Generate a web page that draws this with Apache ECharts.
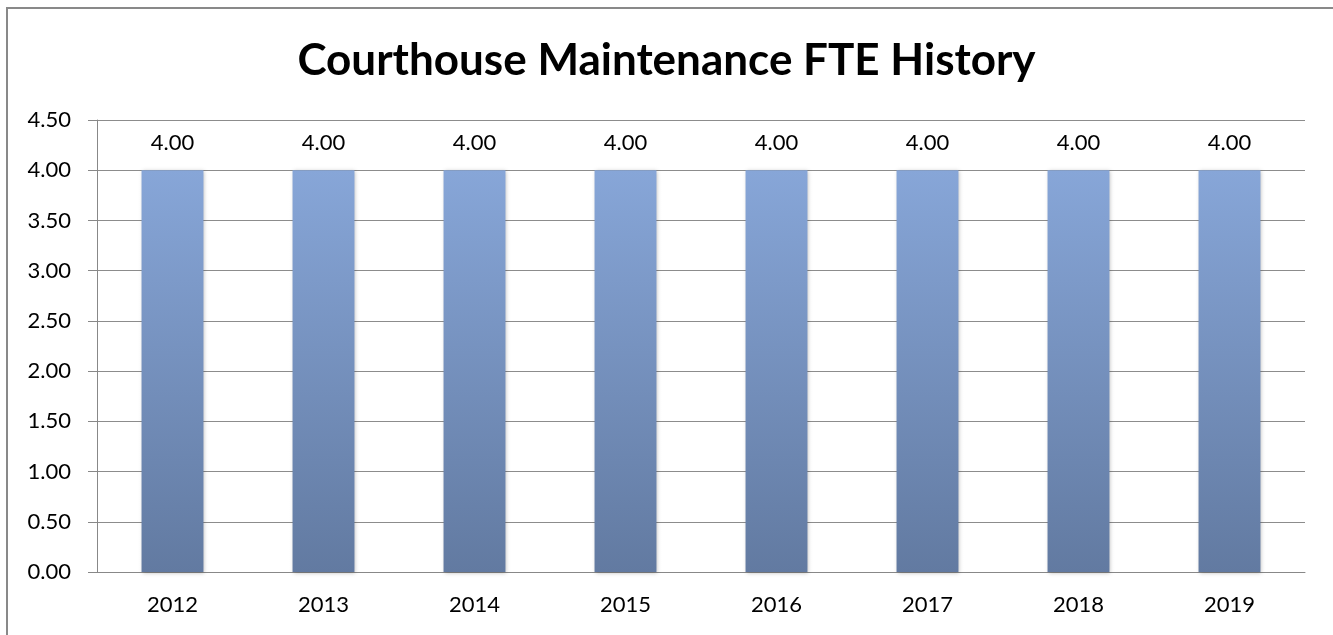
<!DOCTYPE html>
<html>
<head>
<meta charset="utf-8">
<script src="https://cdn.jsdelivr.net/npm/echarts@6/dist/echarts.min.js"></script>
<style>
  html, body { margin: 0; padding: 0; background: #fff; }
  #chart { width: 1333px; height: 635px; }
</style>
</head>
<body>
<div id="chart"></div>
<script>
const years = ['2012', '2013', '2014', '2015', '2016', '2017', '2018', '2019']
const fte = [4.00, 4.00, 4.00, 4.00, 4.00, 4.00, 4.00, 4.00]

const chart = echarts.init(document.getElementById('chart'))
const font = 'Lato, "Open Sans", sans-serif'

chart.setOption({
  backgroundColor: '#fff',
  animation: false,
  // chart border (cut off at right and bottom like the original)
  graphic: [{
    type: 'rect',
    shape: { x: 7, y: 8, width: 1400, height: 700 },
    style: { fill: 'none', stroke: '#898989', lineWidth: 2 }
  }],
  title: {
    text: 'Courthouse Maintenance FTE History',
    left: 'center',
    top: 34,
    textStyle: { fontFamily: font, fontSize: 44, fontWeight: 'bold', color: '#000' }
  },
  grid: { left: 97, right: 28, top: 120, bottom: 63 },
  xAxis: {
    type: 'category',
    data: years,
    axisLine: { lineStyle: { color: '#888', width: 1 } },
    axisTick: { length: 7, lineStyle: { color: '#888' } },
    axisLabel: { fontFamily: font, fontSize: 22, color: '#000', margin: 22 }
  },
  yAxis: {
    type: 'value',
    min: 0,
    max: 4.5,
    interval: 0.5,
    axisLine: { show: true, lineStyle: { color: '#888' } },
    axisTick: { show: true, length: 9, lineStyle: { color: '#888' } },
    axisLabel: {
      fontFamily: font, fontSize: 22, color: '#000', margin: 26,
      formatter: v => v.toFixed(2)
    },
    splitLine: { lineStyle: { color: '#8c8c8c', width: 1 } }
  },
  series: [{
    type: 'bar',
    data: fte,
    barWidth: '41%',
    itemStyle: {
      color: new echarts.graphic.LinearGradient(0, 0, 0, 1, [
        { offset: 0, color: '#87a6d8' },
        { offset: 1, color: '#627aa1' }
      ]),
      shadowColor: 'rgba(0,0,0,0.25)',
      shadowBlur: 4,
      shadowOffsetX: 1,
      shadowOffsetY: 1
    },
    label: {
      show: true,
      position: 'top',
      distance: 16,
      fontFamily: font,
      fontSize: 22,
      color: '#000',
      formatter: p => p.value.toFixed(2)
    }
  }]
})
</script>
</body>
</html>
